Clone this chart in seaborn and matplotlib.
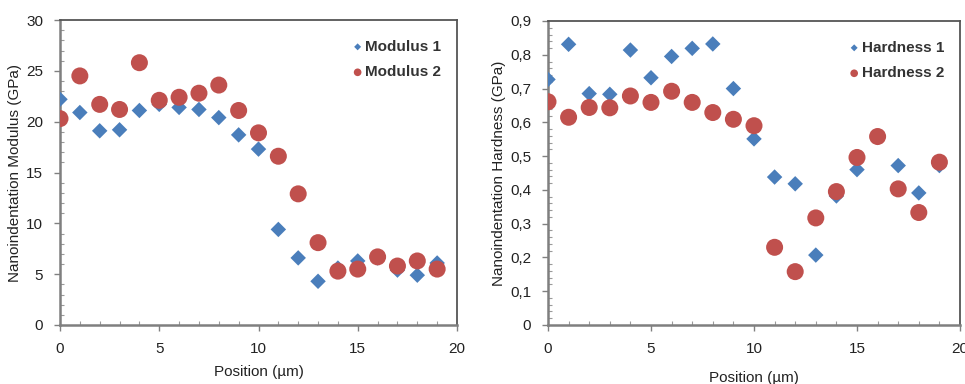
import numpy as np
import pandas as pd
import matplotlib
matplotlib.use("Agg")
import matplotlib.pyplot as plt
from matplotlib.ticker import MultipleLocator, FixedLocator, FixedFormatter
import seaborn as sns

# Indentation positions along the line scan (µm)
position = list(range(20))

modulus_1 = [22.2, 20.9, 19.1, 19.2, 21.1, 21.7, 21.4, 21.2, 20.4, 18.7,
             17.3, 9.4, 6.6, 4.3, 5.6, 6.3, 6.6, 5.4, 4.9, 6.1]
modulus_2 = [20.3, 24.5, 21.7, 21.2, 25.8, 22.1, 22.4, 22.8, 23.6, 21.1,
             18.9, 16.6, 12.9, 8.1, 5.3, 5.5, 6.7, 5.8, 6.3, 5.5]

hardness_1 = [0.727, 0.831, 0.685, 0.683, 0.814, 0.732, 0.795, 0.819, 0.832, 0.700,
              0.551, 0.438, 0.418, 0.207, 0.382, 0.460, 0.555, 0.472, 0.391, 0.472]
hardness_2 = [0.661, 0.615, 0.644, 0.643, 0.678, 0.659, 0.692, 0.659, 0.629, 0.609,
              0.590, 0.230, 0.158, 0.317, 0.395, 0.496, 0.558, 0.403, 0.333, 0.482]

x_ticks = [0, 5, 10, 15, 20]
x_tick_labels = ["0", "5", "10", "15", "20"]
mod_ticks = [0, 5, 10, 15, 20, 25, 30]
mod_tick_labels = ["0", "5", "10", "15", "20", "25", "30"]
hard_ticks = [0, 0.1, 0.2, 0.3, 0.4, 0.5, 0.6, 0.7, 0.8, 0.9]
hard_tick_labels = ["0", "0,1", "0,2", "0,3", "0,4", "0,5", "0,6", "0,7", "0,8", "0,9"]

BLUE = "#4a7ebb"
RED = "#c0504d"

sns.set_theme(style="white")
plt.rcParams["font.family"] = ["Liberation Sans", "DejaVu Sans"]

fig = plt.figure(figsize=(9.65, 3.84), dpi=100)
ax1 = fig.add_axes([60 / 965, 59 / 384, 397 / 965, 305 / 384])
ax2 = fig.add_axes([548 / 965, 59 / 384, 412 / 965, 304 / 384])

mod_df = pd.DataFrame({"pos": position, "m1": modulus_1, "m2": modulus_2})
hard_df = pd.DataFrame({"pos": position, "h1": hardness_1, "h2": hardness_2})


def style_axes(ax, yticks, ylabels, ymax, yminor, ylabel, xpad):
    ax.set_xlim(0, 20)
    ax.set_ylim(0, ymax)
    ax.xaxis.set_major_locator(FixedLocator(x_ticks))
    ax.xaxis.set_major_formatter(FixedFormatter(x_tick_labels))
    ax.xaxis.set_minor_locator(MultipleLocator(1))
    ax.yaxis.set_major_locator(FixedLocator(yticks))
    ax.yaxis.set_major_formatter(FixedFormatter(ylabels))
    ax.yaxis.set_minor_locator(MultipleLocator(yminor))
    ax.tick_params(which="major", direction="out", length=4, width=1,
                   color="#808080", labelsize=11, labelcolor="#222222", pad=8,
                   bottom=True, left=True)
    ax.tick_params(which="minor", direction="in", length=3, width=0.8,
                   color="#9a9a9a", bottom=True, left=True)
    for side in ("left", "bottom"):
        ax.spines[side].set_color("#7f7f7f")
        ax.spines[side].set_linewidth(1.8)
    for side in ("top", "right"):
        ax.spines[side].set_color("#555555")
        ax.spines[side].set_linewidth(1.3)
    ax.set_xlabel("Position (µm)", fontsize=11, color="#222222", labelpad=xpad)
    ax.set_ylabel(ylabel, fontsize=11, color="#222222", labelpad=3)
    ax.set_facecolor("white")


sns.scatterplot(data=mod_df, x="pos", y="m1", ax=ax1, marker="D", s=62,
                color=BLUE, edgecolor="none", label="Modulus 1", zorder=3)
sns.scatterplot(data=mod_df, x="pos", y="m2", ax=ax1, marker="o", s=150,
                color=RED, edgecolor="none", label="Modulus 2", zorder=3)
style_axes(ax1, mod_ticks, mod_tick_labels, 30, 1,
           "Nanoindentation Modulus (GPa)", 7)

sns.scatterplot(data=hard_df, x="pos", y="h1", ax=ax2, marker="D", s=62,
                color=BLUE, edgecolor="none", label="Hardness 1", zorder=3)
sns.scatterplot(data=hard_df, x="pos", y="h2", ax=ax2, marker="o", s=150,
                color=RED, edgecolor="none", label="Hardness 2", zorder=3)
style_axes(ax2, hard_ticks, hard_tick_labels, 0.9, 0.02,
           "Nanoindentation Hardness (GPa)", 11)

for ax in (ax1, ax2):
    ax.legend(loc="upper right", bbox_to_anchor=(0.995, 0.98), frameon=False,
              markerscale=0.45, handletextpad=0.0, handlelength=1.0,
              labelspacing=0.75,
              prop={"weight": "bold", "size": 11})
    for t in ax.get_legend().get_texts():
        t.set_color("#333333")

fig.savefig("out.png", dpi=100, facecolor="white")
